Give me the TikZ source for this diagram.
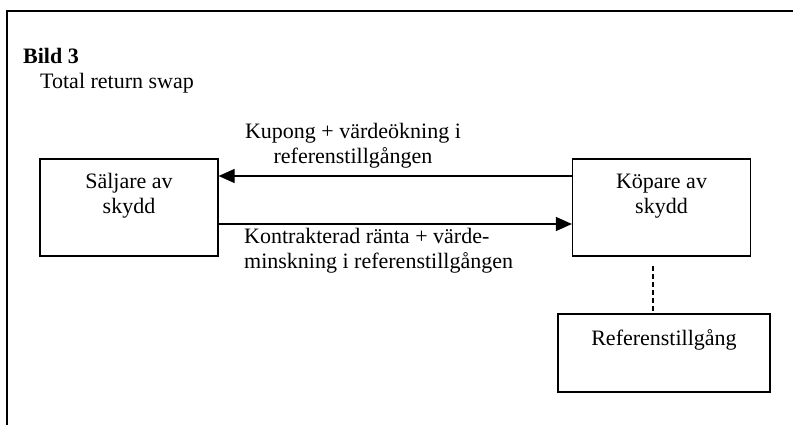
\documentclass[tikz,border=0pt]{standalone}
\usepackage{fontspec}
\setmainfont{Liberation Serif}
\usetikzlibrary{arrows.meta}

\begin{document}
\begin{tikzpicture}[x=1pt,y=-1pt,
    every node/.style={font=\fontsize{22}{25}\selectfont, inner sep=0pt},
    party/.style={draw, line width=1.2pt, minimum width=178pt, minimum height=97pt},
    flow/.style={line width=1.2pt, -{Triangle[length=16pt,width=14pt]}}]
  \useasboundingbox (0,0) rectangle (793,425);
  % frame, open at right and bottom
  \draw[line width=1.3pt] (7,425) -- (7,11) -- (793,11);
  \node[anchor=base west, font=\fontsize{22}{25}\selectfont\bfseries] (title) at (23,64) {Bild 3};
  \node[anchor=base west] (subtitle) at (40,89) {Total return swap};
  % the two parties
  \node[party] (seller) at (129,207.5) {};
  \node[anchor=north, align=center] (sellertext) at ([yshift=-15]seller.north) {Säljare av\\skydd};
  \node[party] (buyer) at (661.5,207.5) {};
  \node[anchor=north, align=center] (buyertext) at ([yshift=-15]buyer.north) {Köpare av\\skydd};
  % reference asset
  \node[party, minimum width=212pt, minimum height=78pt] (asset) at (664,353) {};
  \node[anchor=north] (assettext) at ([yshift=-16]asset.north) {Referenstillgång};
  % payments
  \draw[flow] ([yshift=31.5]buyer.west) -- ([yshift=31.5]seller.east);
  \draw[flow] ([yshift=-16.5]seller.east) -- ([yshift=-16.5]buyer.west);
  \node[anchor=north, align=center] (couponlbl) at (353,123) {Kupong + värdeökning i\\referenstillgången};
  \node[anchor=north west, align=left] (ratelbl) at (244,228) {Kontrakterad ränta + värde-\\minskning i referenstillgången};
  \draw[line width=1.2pt, dash pattern=on 5pt off 3pt] ([xshift=-8.5,yshift=-9]buyer.south) -- ([xshift=-11]asset.north);
\end{tikzpicture}
\end{document}
